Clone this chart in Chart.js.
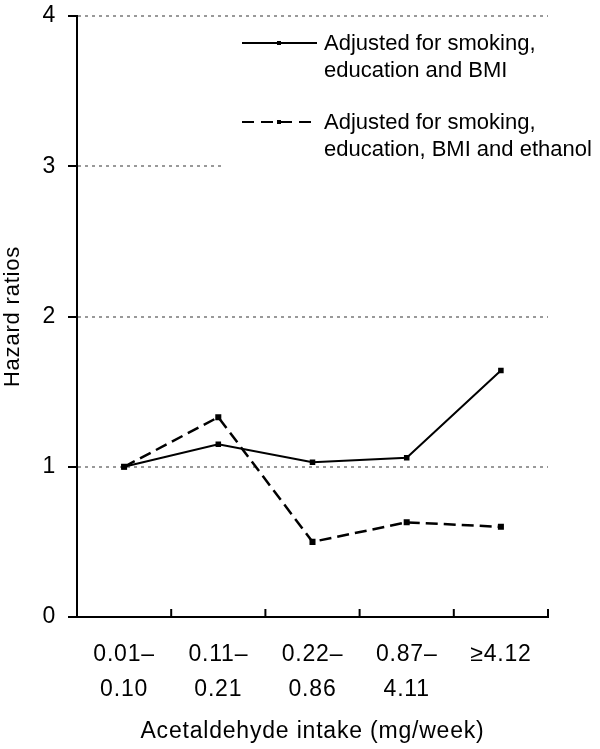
<!DOCTYPE html>
<html>
<head>
<meta charset="utf-8">
<script src="https://cdn.jsdelivr.net/npm/chart.js@4.4.1/dist/chart.umd.min.js"></script>
<style>
  html, body { margin: 0; padding: 0; background: #fff; }
  #myChart { display: block; }
</style>
</head>
<body>
<canvas id="myChart" width="600" height="749"></canvas>
<script>
// categories and values
const categories = [['0.01\u2013', '0.10'], ['0.11\u2013', '0.21'], ['0.22\u2013', '0.86'], ['0.87\u2013', '4.11'], ['\u22654.12']];
const adjustedBasic = [1.0, 1.15, 1.03, 1.06, 1.64];
const adjustedEthanol = [1.0, 1.33, 0.50, 0.63, 0.60];
const yTicks = [0, 1, 2, 3, 4];
const legendLines = [
  ['Adjusted for smoking,', 'education and BMI'],
  ['Adjusted for smoking,', 'education, BMI and ethanol']
];

const FONT = 'Liberation Sans, Arial, Helvetica, sans-serif';

// the figure's axis text is a bit tracked out
const spacingPlugin = {
  id: 'spacing',
  beforeDraw(chart) {
    chart.ctx.letterSpacing = '0.8px';
  }
};

// inward ticks on the x axis at category boundaries
const xTicksPlugin = {
  id: 'xTicks',
  afterDraw(chart) {
    const ctx = chart.ctx;
    const x = chart.scales.x;
    const area = chart.chartArea;
    ctx.save();
    ctx.strokeStyle = '#000';
    ctx.lineWidth = 2;
    for (let i = 0; i < categories.length; i++) {
      let px = i < categories.length - 1
        ? (x.getPixelForValue(i) + x.getPixelForValue(i + 1)) / 2
        : area.right;
      ctx.beginPath();
      ctx.moveTo(px, area.bottom);
      ctx.lineTo(px, area.bottom - 8);
      ctx.stroke();
    }
    ctx.restore();
  }
};

// legend box in the upper right, white background hides the grid behind it
const legendPlugin = {
  id: 'boxLegend',
  afterDatasetsDraw(chart) {
    const ctx = chart.ctx;
    ctx.save();
    ctx.letterSpacing = '0px';
    ctx.fillStyle = '#fff';
    ctx.fillRect(224, 27, 336, 148);
    const rows = [
      { y: 43, dash: [] },
      { y: 122, dash: [12, 7] }
    ];
    rows.forEach((r, i) => {
      ctx.strokeStyle = '#000';
      ctx.lineWidth = 2;
      ctx.setLineDash(r.dash);
      ctx.beginPath();
      ctx.moveTo(242, r.y);
      ctx.lineTo(317, r.y);
      ctx.stroke();
      ctx.setLineDash([]);
      ctx.fillStyle = '#000';
      ctx.fillRect(277, r.y - 2, 4, 4);
      ctx.font = '22px ' + FONT;
      ctx.textBaseline = 'middle';
      ctx.textAlign = 'left';
      legendLines[i].forEach((t, j) => {
        ctx.fillText(t, 324, r.y + 1 + j * 27);
      });
    });
    ctx.restore();
  }
};

const ctx = document.getElementById('myChart').getContext('2d');
const myChart = new Chart(ctx, {
  type: 'line',
  data: {
    labels: categories,
    datasets: [{
      label: legendLines[0].join(' '),
      data: adjustedBasic,
      borderColor: '#000',
      backgroundColor: '#000',
      borderWidth: 2,
      pointStyle: 'rect',
      pointRadius: 2.5,
      tension: 0,
      fill: false
    }, {
      label: legendLines[1].join(' '),
      data: adjustedEthanol,
      borderColor: '#000',
      backgroundColor: '#000',
      borderWidth: 2.5,
      borderDash: [12, 6],
      pointStyle: 'rect',
      pointRadius: 2.5,
      tension: 0,
      fill: false
    }]
  },
  options: {
    responsive: false,
    animation: false,
    layout: { padding: { top: 16, right: 52, left: 0, bottom: 0 } },
    plugins: {
      legend: { display: false },
      tooltip: { enabled: false }
    },
    scales: {
      x: {
        offset: true,
        grid: { display: false },
        border: { display: true, color: '#000', width: 2 },
        ticks: {
          color: '#000',
          padding: 12,
          maxRotation: 0,
          autoSkip: false,
          font: { family: FONT, size: 23, lineHeight: 1.52 }
        },
        title: {
          display: true,
          text: 'Acetaldehyde intake (mg/week)',
          color: '#000',
          padding: { top: 0, bottom: 4 },
          font: { family: FONT, size: 23 }
        },
        afterFit(scale) { scale.height = 132; }
      },
      y: {
        min: 0,
        max: 4,
        afterBuildTicks(scale) { scale.ticks = yTicks.map(v => ({ value: v })); },
        grid: {
          color: c => (c.tick && c.tick.value === 0) ? 'rgba(0,0,0,0)' : '#999',
          lineWidth: 2,
          drawTicks: true,
          tickLength: 9,
          tickColor: '#000',
          tickWidth: 2,
          tickBorderDash: []
        },
        border: { display: true, color: '#000', width: 2, dash: [3, 4] },
        ticks: {
          color: '#000',
          padding: 12,
          font: { family: FONT, size: 23 }
        },
        title: {
          display: true,
          text: 'Hazard ratios',
          color: '#000',
          padding: { top: 0, bottom: 0 },
          font: { family: FONT, size: 22 }
        },
        afterFit(scale) {
          scale.width = 77;
          scale.paddingTop = 0;
          scale.paddingBottom = 0;
        }
      }
    }
  },
  plugins: [spacingPlugin, xTicksPlugin, legendPlugin]
});
</script>
</body>
</html>
